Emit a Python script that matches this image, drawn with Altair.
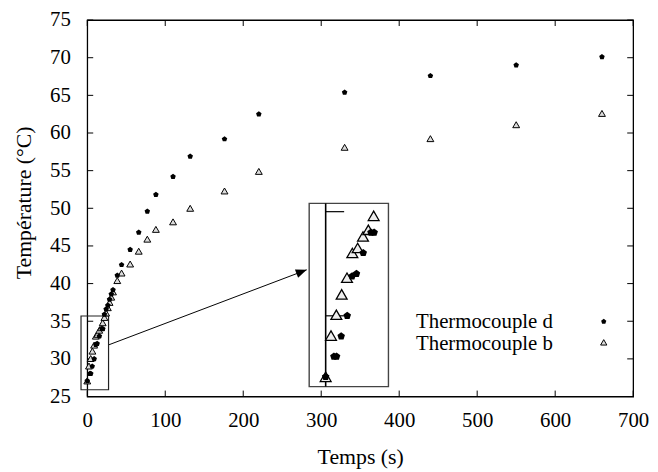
import altair as alt
import pandas as pd

# ---------------- data ----------------
series_names = ["Thermocouple d", "Thermocouple b"]

# Thermocouple d (filled pentagons)
time_d = [0, 3.4, 4.5, 6.4, 8.9, 10.9, 12.7, 15.5, 18.7, 20.0,
          22, 24.2, 26.4, 28.6, 30.8, 33, 38.5, 44,
          55, 66, 77, 88, 110, 132, 176, 220,
          330, 440, 550, 660]
temp_d = [27.07, 28.05, 28.05, 29.02, 30.0, 31.9, 32.02, 33.02, 34.0, 34.0,
          35.9, 36.6, 37.1, 37.9, 38.6, 39.15, 41.1, 42.5,
          44.5, 46.8, 49.6, 51.8, 54.2, 56.9, 59.2, 62.5,
          65.4, 67.6, 69.0, 70.1]

# Thermocouple b (open triangles)
time_b = [0, 2.2, 4.4, 6.6, 8.8, 11, 13.2, 15.4, 17.6, 19.8,
          22, 24.2, 26.4, 28.6, 30.8, 33, 38.5, 44,
          55, 66, 77, 88, 110, 132, 176, 220,
          330, 440, 550, 660]
temp_b = [27.07, 29.05, 30.05, 31.03, 31.83, 33.02, 33.26, 33.81, 34.13, 34.8,
          35.5, 36.1, 36.8, 37.5, 38.2, 38.9, 40.4, 41.4,
          42.6, 44.3, 45.9, 47.2, 48.2, 50.0, 52.3, 54.9,
          58.1, 59.25, 61.1, 62.6]

x_ticks = [0, 100, 200, 300, 400, 500, 600, 700]
y_ticks = [25, 30, 35, 40, 45, 50, 55, 60, 65, 70, 75]

# zoom box (main coordinates) and inset domain (zoomed coordinates)
zoom_t = [-8, 27.3]
zoom_T = [25.9, 35.7]
inset_t = [-6.8, 25.9]
inset_T = [26.6, 35.4]
inset_ticks = [30, 35]

# arrow from zoom box to inset (main coordinates)
arrow_t = [27.95, 281.4]
arrow_T = [31.88, 41.83]

# ---------------- styling ----------------
FONT = "Liberation Serif"
W, H = 551, 380
TICK_T = 6 / (W / 700)          # 6 px expressed in seconds
PENT = "M0,-1L0.951,-0.309L0.588,0.809L-0.588,0.809L-0.951,-0.309Z"
ARROW = "M0,0L-2.2,-0.9L-2.2,0.9Z"
TRI_FILL = "#dcdcdc"

df_d = pd.DataFrame({"t": time_d, "T": temp_d, "serie": series_names[0]})
df_b = pd.DataFrame({"t": time_b, "T": temp_b, "serie": series_names[1]})

xs = alt.Scale(domain=[0, 700], nice=False, zero=False)
ys = alt.Scale(domain=[25, 75], nice=False, zero=False)

x_axis = alt.Axis(values=x_ticks, title="Temps (s)", ticks=False, tickSize=0,
                  domain=False, grid=False, labelFont=FONT, labelFontSize=21,
                  labelColor="black", labelPadding=13, labelFlush=False,
                  labelOverlap=False, titleFont=FONT, titleFontSize=22,
                  titleFontWeight="normal", titleColor="black",
                  titleBaseline="alphabetic", titleY=68)
y_axis = alt.Axis(values=y_ticks, title="Température (°C)", ticks=False, tickSize=0,
                  domain=False, grid=False, labelFont=FONT, labelFontSize=21,
                  labelColor="black", labelPadding=17, labelFlush=False,
                  labelOverlap=False, titleFont=FONT, titleFontSize=22,
                  titleFontWeight="normal", titleColor="black",
                  titleBaseline="alphabetic", titleAngle=270, titleX=-57, titleY=184)


def X(field=None, datum=None):
    if datum is not None:
        return alt.X(datum=datum, type="quantitative", scale=xs, axis=x_axis)
    return alt.X(field, type="quantitative", scale=xs, axis=x_axis)


def Y(field=None, datum=None):
    if datum is not None:
        return alt.Y(datum=datum, type="quantitative", scale=ys, axis=y_axis)
    return alt.Y(field, type="quantitative", scale=ys, axis=y_axis)


# inward ticks on all four sides
xt = pd.DataFrame({"t": x_ticks})
yt = pd.DataFrame({"T": y_ticks})
ticks_bottom = alt.Chart(xt).mark_rule(color="black", strokeWidth=1, y2Offset=-6).encode(
    x=X("t"), y=Y(datum=25), y2=alt.Y2(datum=25))
ticks_top = alt.Chart(xt).mark_rule(color="black", strokeWidth=1, y2Offset=6).encode(
    x=X("t"), y=Y(datum=75), y2=alt.Y2(datum=75))
ticks_left = alt.Chart(yt).mark_rule(color="black", strokeWidth=1, x2Offset=6).encode(
    y=Y("T"), x=X(datum=0), x2=alt.X2(datum=0))
ticks_right = alt.Chart(yt).mark_rule(color="black", strokeWidth=1, x2Offset=-6).encode(
    y=Y("T"), x=X(datum=700), x2=alt.X2(datum=700))

# zoom box in main plot
zoom_df = pd.DataFrame({"t": [zoom_t[0]], "t2": [zoom_t[1]], "T": [zoom_T[0]], "T2": [zoom_T[1]]})
zoom_box = alt.Chart(zoom_df).mark_rect(fillOpacity=0, stroke="#222222", strokeWidth=1.2).encode(
    x=X("t"), x2="t2", y=Y("T"), y2="T2")

# arrow
arrow_df = pd.DataFrame({"t": [arrow_t[0]], "t2": [arrow_t[1]], "T": [arrow_T[0]], "T2": [arrow_T[1]]})
arrow_line = alt.Chart(arrow_df).mark_rule(color="black", strokeWidth=1).encode(
    x=X("t"), x2="t2", y=Y("T"), y2="T2")
head_df = pd.DataFrame({"t": [arrow_t[1]], "T": [arrow_T[1]]})
arrow_head = alt.Chart(head_df).mark_point(shape=ARROW, filled=True, color="black",
                                            size=100, angle=339.3, opacity=1).encode(
    x=X("t"), y=Y("T"))

# series
pts_b = alt.Chart(df_b).mark_point(shape="triangle-up", filled=True, fill=TRI_FILL,
                                    stroke="black", strokeWidth=1, size=48, opacity=1).encode(
    x=X("t"), y=Y("T"))
pts_d = alt.Chart(df_d).mark_point(shape=PENT, filled=True, color="black",
                                    size=34, opacity=1).encode(
    x=X("t"), y=Y("T"))

# legend (label left, symbol right)
leg_text_d = alt.Chart(df_d.head(1)).mark_text(align="right", baseline="alphabetic", font=FONT,
                                                fontSize=21, color="black").encode(
    x=alt.value(470), y=alt.value(311), text=alt.value(series_names[0]))
leg_text_b = alt.Chart(df_b.head(1)).mark_text(align="right", baseline="alphabetic", font=FONT,
                                                fontSize=21, color="black").encode(
    x=alt.value(470), y=alt.value(332.7), text=alt.value(series_names[1]))
leg_pt_d = alt.Chart(df_d.head(1)).mark_point(shape=PENT, filled=True, color="black",
                                               size=30, opacity=1).encode(
    x=alt.value(521.3), y=alt.value(304.3))
leg_pt_b = alt.Chart(df_b.head(1)).mark_point(shape="triangle-up", filled=True, fill=TRI_FILL,
                                               stroke="black", strokeWidth=1, size=40,
                                               opacity=1).encode(
    x=alt.value(521.3), y=alt.value(325.3))

main = alt.layer(ticks_bottom, ticks_top, ticks_left, ticks_right, zoom_box,
                 arrow_line, arrow_head, pts_b, pts_d,
                 leg_text_d, leg_text_b, leg_pt_d, leg_pt_b)

# ---------------- inset (own scales, placed by range) ----------------
ixs = alt.Scale(domain=inset_t, range=[224, 304], nice=False, zero=False)
iys = alt.Scale(domain=inset_T, range=[370, 185], nice=False, zero=False)


def IX(field=None, datum=None):
    if datum is not None:
        return alt.X(datum=datum, type="quantitative", scale=ixs, axis=None)
    return alt.X(field, type="quantitative", scale=ixs, axis=None)


def IY(field=None, datum=None):
    if datum is not None:
        return alt.Y(datum=datum, type="quantitative", scale=iys, axis=None)
    return alt.Y(field, type="quantitative", scale=iys, axis=None)


def in_inset(df):
    tt = df["t"]
    vv = df["T"]
    mask = (tt >= inset_t[0]) & (tt <= inset_t[1]) & (vv >= inset_T[0]) & (vv <= inset_T[1])
    return df[mask]


inset_df = pd.DataFrame({"t": [inset_t[0]], "t2": [inset_t[1]], "T": [inset_T[0]], "T2": [inset_T[1]]})
inset_frame = alt.Chart(inset_df).mark_rect(fill="white", fillOpacity=1, stroke="#444444",
                                            strokeWidth=1.4).encode(
    x=IX("t"), x2="t2", y=IY("T"), y2="T2")
inset_axis = alt.Chart(inset_df).mark_rule(color="black", strokeWidth=1.6).encode(
    x=IX(datum=0), y=IY("T"), y2="T2")
inset_tk = alt.Chart(pd.DataFrame({"T": inset_ticks})).mark_rule(color="black", strokeWidth=1.2).encode(
    y=IY("T"), x=IX(datum=0), x2=alt.X2(datum=TICK_T))
inset_b = alt.Chart(in_inset(df_b)).mark_point(shape="triangle-up", filled=True, fill="#eeeeee",
                                                stroke="black", strokeWidth=1.3, size=120,
                                                opacity=1).encode(
    x=IX("t"), y=IY("T"))
inset_d = alt.Chart(in_inset(df_d)).mark_point(shape=PENT, filled=True, color="black",
                                                size=64, opacity=1).encode(
    x=IX("t"), y=IY("T"))

inset = alt.layer(inset_frame, inset_axis, inset_tk, inset_b, inset_d)

chart = alt.layer(main, inset).resolve_scale(x="independent", y="independent").properties(
    width=W, height=H,
    padding={"left": 80, "top": 10, "right": 17, "bottom": 74},
    autosize=alt.AutoSizeParams(type="none"),
    background="white",
).configure_view(stroke="black", strokeWidth=1.3)

chart.save("out.html", embed_options={"renderer": "svg", "actions": False})
